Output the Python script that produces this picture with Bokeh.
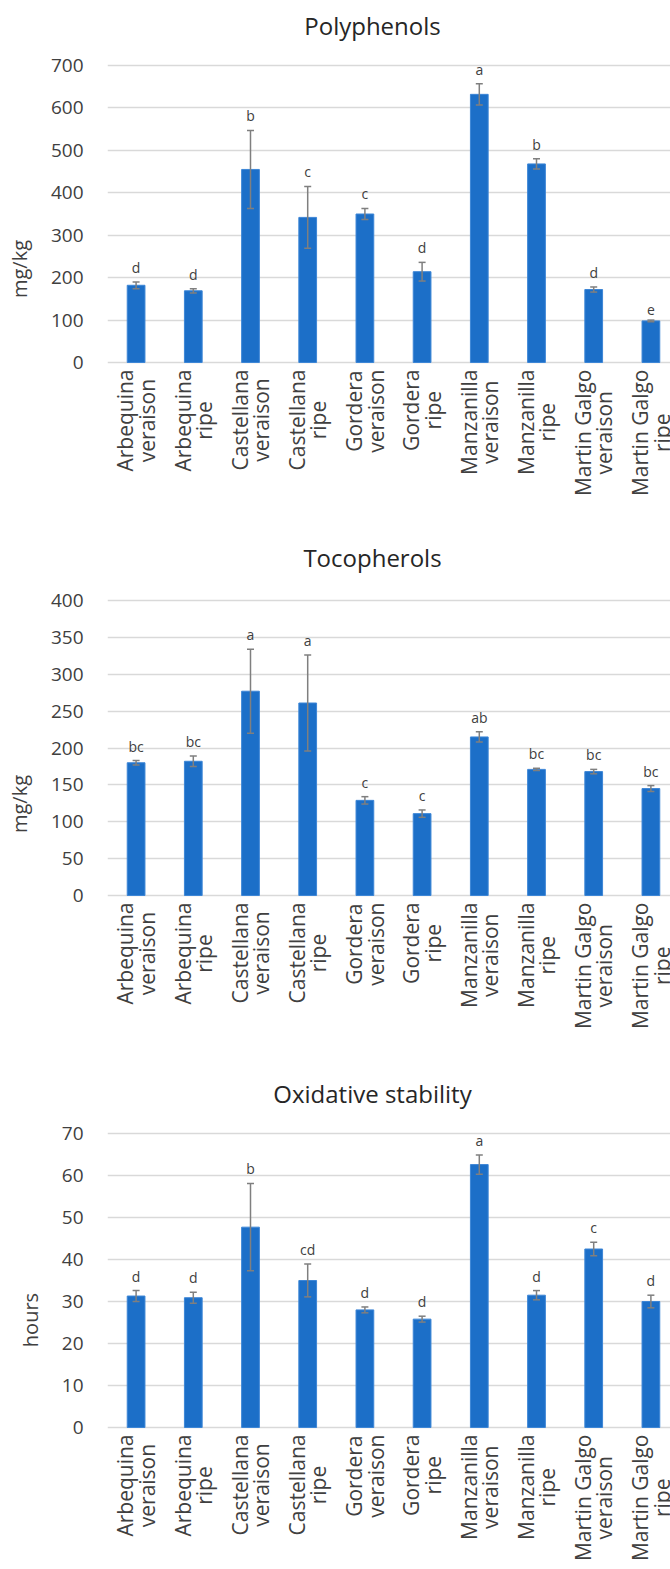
from math import pi
from bokeh.plotting import figure
from bokeh.models import (ColumnDataSource, Range1d, FixedTicker,
                          Whisker, TeeHead, LabelSet, Label)
from bokeh.core.properties import value
from bokeh.layouts import column
from bokeh.embed import file_html
from bokeh.resources import INLINE

CULTIVARS = ["Arbequina", "Arbequina", "Castellana", "Castellana", "Gordera", "Gordera",
             "Manzanilla", "Manzanilla", "Martin Galgo", "Martin Galgo"]
STAGES = ["veraison", "ripe", "veraison", "ripe", "veraison", "ripe",
          "veraison", "ripe", "veraison", "ripe"]

POLY_MEAN = [182, 169, 455, 342, 350, 214, 632, 468, 172, 98]
POLY_SD = [8, 5, 92, 73, 13, 22, 25, 12, 6, 2]
POLY_LET = ["d", "d", "b", "c", "c", "d", "a", "b", "d", "e"]
POLY_TICKS = [0, 100, 200, 300, 400, 500, 600, 700]

TOCO_MEAN = [180, 182, 277, 261, 129, 111, 215, 171, 168, 145]
TOCO_SD = [3, 7, 57, 65, 5, 5, 7, 1.5, 3, 4]
TOCO_LET = ["bc", "bc", "a", "a", "c", "c", "ab", "bc", "bc", "bc"]
TOCO_TICKS = [0, 50, 100, 150, 200, 250, 300, 350, 400]

OX_MEAN = [31.3, 30.9, 47.7, 35.0, 28.0, 25.8, 62.6, 31.5, 42.5, 30.0]
OX_SD = [1.3, 1.3, 10.4, 3.9, 0.7, 0.7, 2.3, 1.1, 1.6, 1.5]
OX_LET = ["d", "d", "b", "cd", "d", "d", "a", "d", "c", "d"]
OX_TICKS = [0, 10, 20, 30, 40, 50, 60, 70]

FONT = "Open Sans"
BAR = "#1c6fc8"
ERR = "#7f7f7f"
TXT = "#404040"

LEFT = 107          # px where the plotting band starts
BAND = 57.2         # px per category
TITLE_CX = 372      # px, centre of the chart titles


def panel(title, title_gap, ylabel, means, sds, letters, ticks, height, top, zero):
    ymax = ticks[-1]
    n = len(means)
    xs = list(range(n))
    # the frame covers the whole figure (below the left margin) so that the
    # title and the category texts can be drawn inside it
    frame_px = zero - top
    per_px = ymax / frame_px
    ystart = -(height - zero) * per_px
    yend = ymax + top * per_px
    xend = -0.5 + (670 - LEFT) / BAND
    src = ColumnDataSource(dict(
        x=xs, top=means,
        upper=[m + s for m, s in zip(means, sds)],
        lower=[m - s for m, s in zip(means, sds)],
        letter=letters))
    p = figure(width=670, height=height, x_range=Range1d(-0.5, xend),
               y_range=Range1d(ystart, yend), output_backend="svg", toolbar_location=None,
               min_border_left=LEFT, min_border_right=0, min_border_top=0,
               min_border_bottom=0, title=None)
    p.add_layout(Label(x=-0.5 + (TITLE_CX - LEFT) / BAND, y=ymax, y_offset=title_gap,
                       text=title, text_align="center", text_baseline="middle",
                       text_font=FONT, text_font_size="24px", text_color="#262626"))
    p.vbar(x="x", top="top", width=0.31, bottom=0, source=src, fill_color=BAR,
           line_color="#3d86d6", line_width=1)
    w = Whisker(source=src, base="x", upper="upper", lower="lower", dimension="height",
                line_color=ERR, line_width=1.5, level="overlay",
                upper_head=TeeHead(size=7, line_color=ERR, line_width=1.5),
                lower_head=TeeHead(size=7, line_color=ERR, line_width=1.5))
    p.add_layout(w)
    p.add_layout(LabelSet(x="x", y="upper", text="letter", source=src, y_offset=5,
                          text_align="center", text_baseline="bottom",
                          text_font_size=value("14px"), text_font=value(FONT),
                          text_color=TXT, level="overlay"))

    for i, (c, s) in enumerate(zip(CULTIVARS, STAGES)):
        p.add_layout(Label(x=i, y=0, y_offset=-7, text=f"{c}\n{s}", angle=pi / 2,
                           anchor="center_right", text_align="center",
                           text_font=FONT, text_font_size="21px", text_color=TXT,
                           text_line_height=0.77))

    p.outline_line_color = None
    p.xaxis.visible = False
    p.xgrid.grid_line_color = None
    p.ygrid.grid_line_color = "#d9d9d9"
    p.ygrid.grid_line_width = 1.5
    ax = p.yaxis
    ax.ticker = FixedTicker(ticks=ticks)
    ax.bounds = (0, ymax)
    ax.axis_line_color = None
    ax.major_tick_line_color = None
    ax.minor_tick_line_color = None
    ax.major_label_text_font = FONT
    ax.major_label_text_color = TXT
    ax.major_label_text_font_size = "19px"
    ax.major_label_standoff = 18
    ax.axis_label = ylabel
    ax.axis_label_text_font = FONT
    ax.axis_label_text_font_size = "20px"
    ax.axis_label_text_font_style = "normal"
    ax.axis_label_text_color = TXT
    ax.axis_label_standoff = 15
    return p


p1 = panel("Polyphenols", 40, "mg/kg", POLY_MEAN, POLY_SD, POLY_LET, POLY_TICKS, 537, 65, 362)
p2 = panel("Tocopherols", 43, "mg/kg", TOCO_MEAN, TOCO_SD, TOCO_LET, TOCO_TICKS, 533, 63, 358)
p3 = panel("Oxidative stability", 40, "hours", OX_MEAN, OX_SD, OX_LET, OX_TICKS, 499, 63, 357)

layout = column(p1, p2, p3, spacing=0)
open("out.html", "w").write(file_html(layout, INLINE))
